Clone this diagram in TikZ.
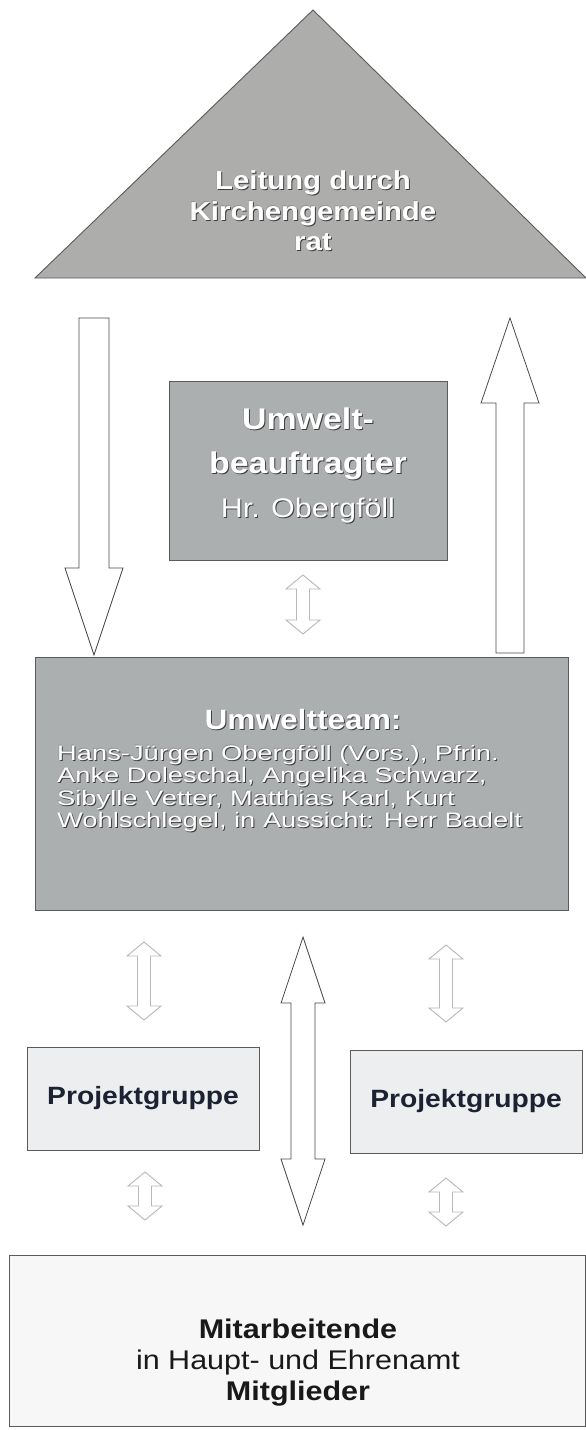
\documentclass[tikz,border=0pt]{standalone}
\usepackage{fontspec}
\setmainfont{Liberation Sans}[FakeStretch=1.13]
\newfontfamily\teamfont{Liberation Sans}[FakeStretch=1.3]
\usetikzlibrary{calc}
\definecolor{trifill}{HTML}{ADAEAC}
\definecolor{boxfill}{HTML}{ABAFB0}
\definecolor{edgecol}{HTML}{5A5A5A}
\definecolor{embd}{HTML}{3E3E3E}
\definecolor{pgfill}{HTML}{EDEEEF}
\definecolor{pgtext}{HTML}{1B2232}
\definecolor{lightarr}{HTML}{B8B8B8}
\definecolor{darkarr}{HTML}{4A4A4A}
\definecolor{mafill}{HTML}{F7F7F7}
\newcommand{\emb}[1]{\leavevmode\rlap{\kern1pt\raisebox{-1pt}{\textcolor{embd}{#1}}}\rlap{\kern-0.5pt\raisebox{0.5pt}{\textcolor{embd!55}{#1}}}#1}
% double block arrow: style, top tip, bottom tip, head half width, shaft half width, head length
\newcommand{\dblblock}[6]{\filldraw[#1] (#2) -- ($(#2)+(#4,#6)$) -- ($(#2)+(#5,#6)$) -- ($(#3)+(#5,-#6)$) -- ($(#3)+(#4,-#6)$) -- (#3) -- ($(#3)+(-#4,-#6)$) -- ($(#3)+(-#5,-#6)$) -- ($(#2)+(-#5,#6)$) -- ($(#2)+(-#4,#6)$) -- cycle;}
% single block arrow pointing down: style, tail, tip, head half, shaft half, head length
\newcommand{\downblock}[6]{\filldraw[#1] ($(#2)+(-#5,0)$) -- ($(#2)+(#5,0)$) -- ($(#3)+(#5,-#6)$) -- ($(#3)+(#4,-#6)$) -- (#3) -- ($(#3)+(-#4,-#6)$) -- ($(#3)+(-#5,-#6)$) -- cycle;}
% single block arrow pointing up: style, tail, tip, head half, shaft half, head length
\newcommand{\upblock}[6]{\filldraw[#1] ($(#2)+(-#5,0)$) -- ($(#2)+(#5,0)$) -- ($(#3)+(#5,#6)$) -- ($(#3)+(#4,#6)$) -- (#3) -- ($(#3)+(-#4,#6)$) -- ($(#3)+(-#5,#6)$) -- cycle;}
\tikzset{
  graybox/.style={draw=edgecol, line width=0.9pt, fill=boxfill, inner sep=0pt},
  pgbox/.style={draw=edgecol, line width=0.9pt, fill=pgfill, inner sep=0pt, minimum width=232, minimum height=103,
    font=\fontsize{25}{29}\selectfont\bfseries, text=pgtext},
  embtext/.style={text=white, align=center, inner sep=0pt},
  bigarr/.style={draw=darkarr, fill=white, line width=0.8pt, line join=miter},
  smallarr/.style={draw=lightarr, fill=white, line width=0.9pt, line join=miter},
}
\begin{document}
\begin{tikzpicture}[x=1pt, y=-1pt]
\useasboundingbox (0,0) rectangle (586,1430);
\fill[white] (0,0) rectangle (586,1430);

% triangle: Leitung
\coordinate (apex) at (313,10);
\coordinate (bl) at (35,278);
\coordinate (br) at (586,278);
\filldraw[fill=trifill, draw=edgecol, line width=0.9pt] (apex) -- (br) -- (bl) -- cycle;
\node[embtext, font=\fontsize{26}{30.5}\selectfont\bfseries] (leitung) at (313,211)
  {\emb{Leitung durch}\\ \emb{Kirchengemeinde}\\ \emb{rat}};

% Umweltbeauftragter
\node[graybox, minimum width=278, minimum height=179] (beauf) at (308,470.5) {};
\node[embtext, font=\fontsize{30}{44}\selectfont\bfseries] (beauftxt) at (308,466)
  {\emb{Umwelt-}\\ \emb{beauftragter}\\ {\mdseries\fontsize{27}{44}\selectfont\emb{Hr. Obergföll}}};

% Umweltteam
\node[graybox, minimum width=533, minimum height=253] (team) at (301.5,783.5) {};
\node[embtext, font=\fontsize{28}{32}\selectfont\bfseries] (teamtitle) at (303,720) {\emb{Umweltteam:}};
\node[text=white, align=left, inner sep=0pt, anchor=west, font=\teamfont\fontsize{21}{22.5}\selectfont] (teambody) at (57,789)
  {\emb{Hans-Jürgen Obergföll (Vors.), Pfrin.}\\
   \emb{Anke Doleschal, Angelika Schwarz,}\\
   \emb{Sibylle Vetter, Matthias Karl, Kurt}\\
   \emb{Wohlschlegel, in Aussicht: Herr Badelt}};

% Projektgruppen
\node[pgbox] (pg1) at (143,1098.5) {Projektgruppe};
\node[pgbox] (pg2) at (466,1101.5) {Projektgruppe};

% Mitarbeitende
\node[draw=edgecol, line width=0.9pt, fill=mafill, minimum width=576, minimum height=171, inner sep=0pt] (mitarb) at (297,1341) {};
\node[align=center, inner sep=0pt, text=black!90, font=\fontsize{27}{31}\selectfont] (mitarbtxt) at (298,1363)
  {\textbf{Mitarbeitende}\\ in Haupt- und Ehrenamt\\ \textbf{Mitglieder}};

% arrow end points
\coordinate (downS) at (94,318);
\coordinate (downT) at (94,655);
\coordinate (upS) at (510,653);
\coordinate (upT) at (510,318);
\coordinate (b1T) at (303,575);
\coordinate (b1B) at (303,634);
\coordinate (t1T) at (144,942);
\coordinate (t1B) at (144,1020);
\coordinate (t2T) at (446,945);
\coordinate (t2B) at (446,1022);
\coordinate (bigT) at (303,937);
\coordinate (bigB) at (303,1225);
\coordinate (p1T) at (145,1172);
\coordinate (p1B) at (145,1220);
\coordinate (p2T) at (446,1178);
\coordinate (p2B) at (446,1226);

\downblock{bigarr}{downS}{downT}{29}{15}{87}
\upblock{bigarr}{upS}{upT}{29}{14}{85}
\dblblock{bigarr}{bigT}{bigB}{22}{12}{66}
\dblblock{smallarr}{b1T}{b1B}{17}{6.5}{14}
\dblblock{smallarr}{t1T}{t1B}{17}{6.5}{14}
\dblblock{smallarr}{t2T}{t2B}{17}{6.5}{14}
\dblblock{smallarr}{p1T}{p1B}{17}{6.5}{14}
\dblblock{smallarr}{p2T}{p2B}{17}{6.5}{14}
\end{tikzpicture}
\end{document}
